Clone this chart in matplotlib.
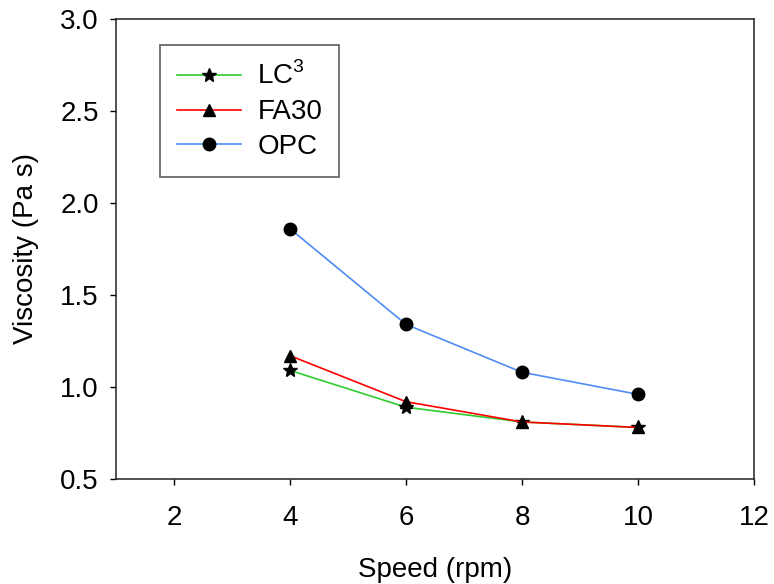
import matplotlib
matplotlib.use("Agg")
import matplotlib.pyplot as plt

plt.rcParams['font.family'] = ['Liberation Sans', 'DejaVu Sans']

# data
speed = [4, 6, 8, 10]
lc3 = [1.09, 0.89, 0.81, 0.78]
fa30 = [1.17, 0.92, 0.81, 0.78]
opc = [1.86, 1.34, 1.08, 0.96]

x_ticks = [2, 4, 6, 8, 10, 12]
y_ticks = [0.5, 1.0, 1.5, 2.0, 2.5, 3.0]

fig = plt.figure(figsize=(7.74, 5.84), dpi=100)
ax = fig.add_axes([0.1499, 0.1798, 0.8243, 0.7877])

ax.plot(speed, lc3, color='#2ecc2e', lw=1.2, marker='*', ms=10,
        mfc='black', mec='black', label=r'LC$^{\mathregular{3}}$', zorder=3)
ax.plot(speed, fa30, color='red', lw=1.2, marker='^', ms=9,
        mfc='black', mec='black', label='FA30', zorder=3)
ax.plot(speed, opc, color='#4f8cf5', lw=1.2, marker='o', ms=9,
        mfc='black', mec='black', label='OPC', zorder=2)

ax.set_xlim(1, 12)
ax.set_ylim(0.5, 3.0)
ax.set_xticks(x_ticks)
ax.set_yticks(y_ticks)
ax.set_yticklabels([f'{v:.1f}' for v in y_ticks])
ax.tick_params(direction='out', length=4.5, width=1, labelsize=20)
ax.tick_params(axis='x', pad=14)
ax.tick_params(axis='y', pad=8)
for s in ax.spines.values():
    s.set_linewidth(1.1)
    s.set_color('#222222')

ax.set_xlabel('Speed (rpm)', fontsize=20, labelpad=19)
ax.set_ylabel('Viscosity (Pa s)', fontsize=20, labelpad=15)

leg = ax.legend(loc='upper left', bbox_to_anchor=(0.069, 0.943), fontsize=20,
                frameon=True, fancybox=False, edgecolor='#444444',
                handlelength=2.3, handletextpad=0.6, labelspacing=0.32,
                borderpad=0.6, borderaxespad=0)
leg.get_frame().set_linewidth(1.3)

fig.savefig('out.png', dpi=100)
